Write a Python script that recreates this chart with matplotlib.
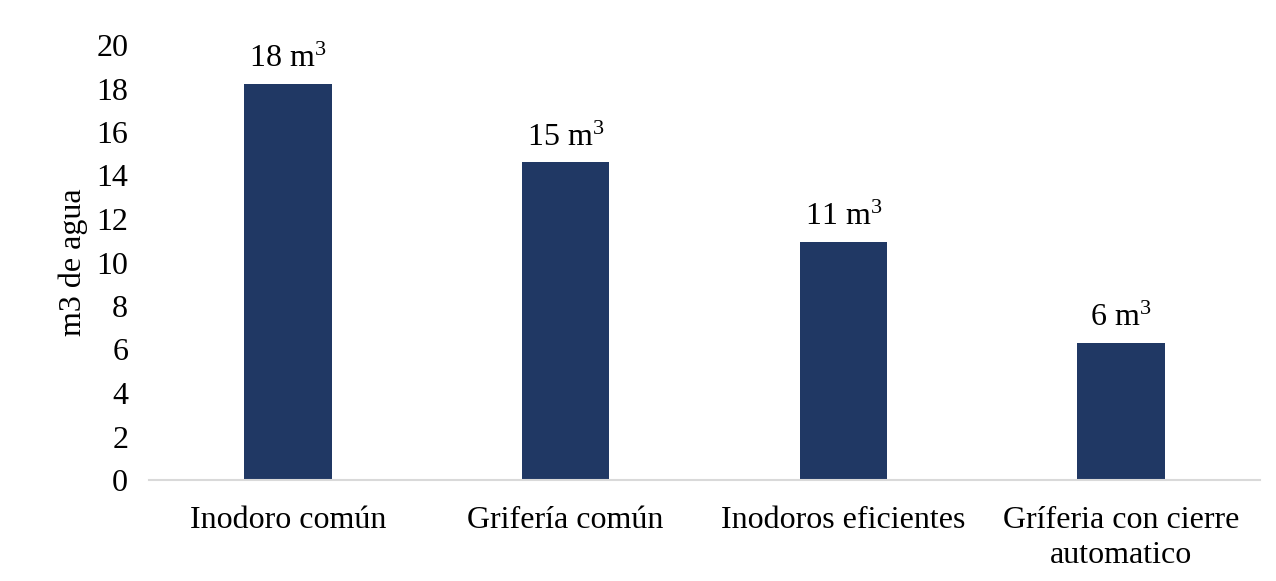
import matplotlib
matplotlib.use("Agg")
import matplotlib.pyplot as plt
import numpy as np

categories = ["Inodoro común", "Grifería común", "Inodoros eficientes",
              "Gríferia con cierre\nautomatico"]
values = [18.2, 14.6, 10.95, 6.3]
yticks = [0, 2, 4, 6, 8, 10, 12, 14, 16, 18, 20]

plt.rcParams["font.family"] = ["Liberation Serif", "DejaVu Serif"]
plt.rcParams["mathtext.fontset"] = "custom"
plt.rcParams["mathtext.rm"] = "Liberation Serif"
plt.rcParams["mathtext.it"] = "Liberation Serif:italic"
plt.rcParams["mathtext.bf"] = "Liberation Serif:bold"
plt.rcParams["mathtext.default"] = "rm"

fs = 23

fig = plt.figure(figsize=(12.76, 5.81), dpi=100)
ax = fig.add_axes([149 / 1276, 101 / 581, 1111 / 1276, 435 / 581])

x = np.arange(len(categories))
ax.bar(x, values, width=0.315, color="#203864")

for xi, v in zip(x, values):
    ax.text(xi, v + 0.45, f"{round(v):.0f} m$^{{3}}$", ha="center", va="bottom",
            fontsize=fs)

ax.set_xlim(-0.5, len(categories) - 0.5)
ax.set_ylim(0, 20)
ax.set_yticks(yticks)
ax.set_xticks(x)
ax.set_xticklabels(categories, fontsize=fs, linespacing=1.25)
ax.tick_params(axis="y", labelsize=fs, length=0, pad=15)
ax.tick_params(axis="x", length=0, pad=19)

for s in ["top", "right", "left"]:
    ax.spines[s].set_visible(False)
ax.spines["bottom"].set_color("#d9d9d9")
ax.spines["bottom"].set_linewidth(1.5)

ax.set_ylabel("m3 de agua", fontsize=fs, labelpad=6)

fig.savefig("out.png", dpi=100)
